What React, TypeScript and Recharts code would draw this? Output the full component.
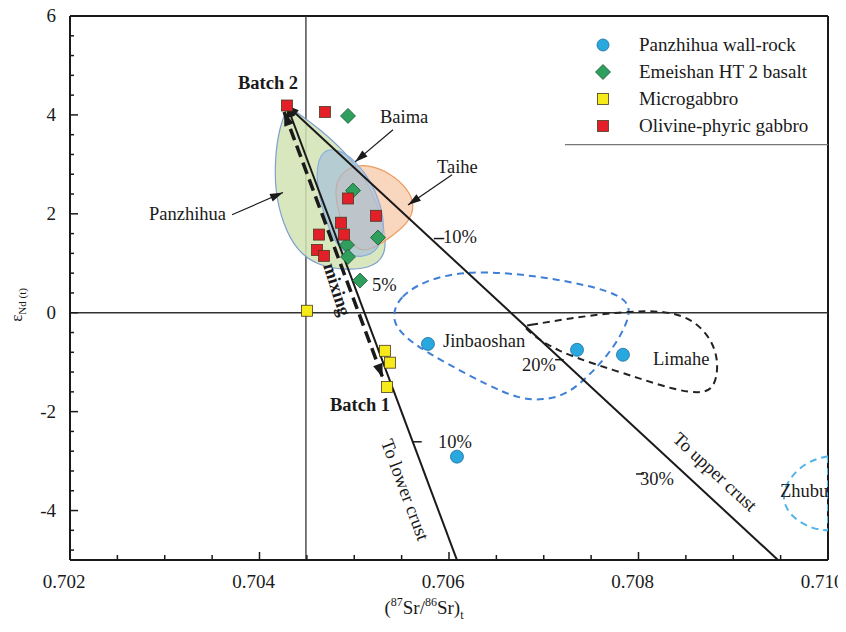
import { ScatterChart, Scatter, XAxis, YAxis, ReferenceLine, Legend, Curve } from "recharts";

const FONT = '"Liberation Serif", "Times New Roman", serif';
const INK = "#1a1a1a";

// axis ticks
const xTicks = [0.702, 0.7025, 0.703, 0.7035, 0.704, 0.7045, 0.705, 0.7055, 0.706, 0.7065, 0.707, 0.7075, 0.708, 0.7085, 0.709, 0.7095, 0.71];
const xLabels = [0.702, 0.704, 0.706, 0.708, 0.71];
const yTicks = [6, 5.6, 5.2, 4.8, 4.4, 4, 3.6, 3.2, 2.8, 2.4, 2, 1.6, 1.2, 0.8, 0.4, 0, -0.4, -0.8, -1.2, -1.6, -2, -2.4, -2.8, -3.2, -3.6, -4, -4.4, -4.8];
const yLabels = [6, 4, 2, 0, -2, -4];

// samples
const wallRock = [
  { x: 0.705778, y: -0.63 },
  { x: 0.707351, y: -0.75 },
  { x: 0.707836, y: -0.85 },
  { x: 0.706084, y: -2.91 },
];
const ht2Basalt = [
  { x: 0.704934, y: 3.98 },
  { x: 0.704987, y: 2.47 },
  { x: 0.70525, y: 1.52 },
  { x: 0.704923, y: 1.37 },
  { x: 0.704934, y: 1.13 },
  { x: 0.705061, y: 0.65 },
];
const microgabbro = [
  { x: 0.704501, y: 0.04 },
  { x: 0.705325, y: -0.77 },
  { x: 0.705377, y: -1.01 },
  { x: 0.705346, y: -1.5 },
];
const olivineGabbro = [
  { x: 0.70429, y: 4.19 },
  { x: 0.704691, y: 4.06 },
  { x: 0.704934, y: 2.31 },
  { x: 0.70523, y: 1.96 },
  { x: 0.70486, y: 1.82 },
  { x: 0.704628, y: 1.58 },
  { x: 0.704892, y: 1.58 },
  { x: 0.704607, y: 1.27 },
  { x: 0.704681, y: 1.15 },
];

// fields
const panzhihuaField = [
  { x: 0.7043, y: 4.19 }, { x: 0.7043, y: 4.19 }, { x: 0.7043, y: 4.19 },
  { x: 0.704427, y: 4.0 }, { x: 0.704617, y: 3.74 }, { x: 0.704902, y: 3.26 },
  { x: 0.705113, y: 2.73 }, { x: 0.705251, y: 2.18 }, { x: 0.705335, y: 1.58 },
  { x: 0.705324, y: 1.12 }, { x: 0.705166, y: 0.9 }, { x: 0.704902, y: 0.86 },
  { x: 0.704607, y: 0.96 }, { x: 0.704396, y: 1.25 }, { x: 0.704249, y: 1.78 },
  { x: 0.704164, y: 2.45 }, { x: 0.704164, y: 3.13 }, { x: 0.704206, y: 3.72 },
];
const baimaField = [
  { x: 0.70466, y: 3.33 }, { x: 0.70485, y: 3.29 }, { x: 0.705008, y: 3.08 },
  { x: 0.705176, y: 2.67 }, { x: 0.705282, y: 2.18 }, { x: 0.705324, y: 1.7 },
  { x: 0.705261, y: 1.27 }, { x: 0.705082, y: 1.1 }, { x: 0.704892, y: 1.19 },
  { x: 0.704755, y: 1.56 }, { x: 0.70465, y: 2.18 }, { x: 0.704586, y: 2.81 },
];
const taiheField = [
  { x: 0.704818, y: 2.71 }, { x: 0.704955, y: 2.96 }, { x: 0.705145, y: 3.0 },
  { x: 0.705387, y: 2.82 }, { x: 0.705567, y: 2.5 }, { x: 0.705641, y: 2.18 },
  { x: 0.705577, y: 1.82 }, { x: 0.705398, y: 1.55 }, { x: 0.705208, y: 1.3 },
  { x: 0.705051, y: 1.23 }, { x: 0.704924, y: 1.5 }, { x: 0.70484, y: 1.98 },
  { x: 0.704797, y: 2.4 },
];
const jinbaoshanField = [
  { x: 0.705409, y: 0.0 }, { x: 0.705483, y: 0.32 }, { x: 0.705726, y: 0.64 },
  { x: 0.706148, y: 0.84 }, { x: 0.706675, y: 0.8 }, { x: 0.707203, y: 0.66 },
  { x: 0.707709, y: 0.44 }, { x: 0.707909, y: 0.2 }, { x: 0.707899, y: -0.14 },
  { x: 0.707741, y: -0.71 }, { x: 0.707498, y: -1.24 }, { x: 0.707245, y: -1.66 },
  { x: 0.706992, y: -1.77 }, { x: 0.706739, y: -1.74 }, { x: 0.706423, y: -1.48 },
  { x: 0.705969, y: -1.02 }, { x: 0.70561, y: -0.62 }, { x: 0.705431, y: -0.28 },
];
const limaheField = [
  { x: 0.706792, y: -0.27 }, { x: 0.706792, y: -0.27 },
  { x: 0.707245, y: -0.12 }, { x: 0.707805, y: 0.02 }, { x: 0.708301, y: 0.05 },
  { x: 0.708595, y: -0.16 }, { x: 0.708775, y: -0.55 }, { x: 0.708848, y: -1.01 },
  { x: 0.708806, y: -1.53 }, { x: 0.708649, y: -1.64 }, { x: 0.708364, y: -1.55 },
  { x: 0.708016, y: -1.33 }, { x: 0.70752, y: -1.03 }, { x: 0.70714, y: -0.77 },
  { x: 0.706887, y: -0.46 },
];
const zhubuField = [
  { x: 0.71, y: -2.9 }, { x: 0.71, y: -2.9 }, { x: 0.71, y: -2.9 },
  { x: 0.709778, y: -3.0 }, { x: 0.709579, y: -3.36 }, { x: 0.709505, y: -3.78 },
  { x: 0.709621, y: -4.15 }, { x: 0.709842, y: -4.38 },
  { x: 0.71, y: -4.4 }, { x: 0.71, y: -4.4 }, { x: 0.71, y: -4.4 },
];

// mixing trends
const upperCrust = [{ x: 0.70429, y: 4.19 }, { x: 0.709472, y: -5 }];
const lowerCrust = [{ x: 0.70429, y: 4.19 }, { x: 0.706084, y: -5 }];
const mixingTrend = [{ x: 0.70426, y: 4.06 }, { x: 0.7053, y: -1.31 }];
const pctMarks = [
  [{ x: 0.70584, y: 1.5 }, { x: 0.70595, y: 1.5 }],
  [{ x: 0.70712, y: -0.95 }, { x: 0.70721, y: -0.95 }],
  [{ x: 0.707974, y: -3.26 }, { x: 0.708058, y: -3.26 }],
  [{ x: 0.705617, y: -2.61 }, { x: 0.705712, y: -2.61 }],
];
const pointers = [
  [{ x: 0.70371, y: 1.98 }, { x: 0.704248, y: 2.43 }],
  [{ x: 0.705409, y: 3.7 }, { x: 0.705008, y: 3.05 }],
  [{ x: 0.706032, y: 2.79 }, { x: 0.705567, y: 2.18 }],
];
const legendLine = [{ x: 0.707224, y: 3.4 }, { x: 0.71, y: 3.4 }];

// annotations
const notes = [
  { x: 0.703773, y: 4.53, text: "Batch 2" },
  { x: 0.705272, y: 3.84, text: "Baima" },
  { x: 0.705873, y: 2.83, text: "Taihe" },
  { x: 0.702834, y: 1.88, text: "Panzhihua" },
  { x: 0.705937, y: 1.42, text: "10%" },
  { x: 0.705187, y: 0.44, text: "5%" },
  { x: 0.705937, y: -0.69, text: "Jinbaoshan" },
  { x: 0.70677, y: -1.17, text: "20%" },
  { x: 0.708153, y: -1.05, text: "Limahe" },
  { x: 0.704744, y: -1.98, text: "Batch 1" },
  { x: 0.705884, y: -2.73, text: "10%" },
  { x: 0.708016, y: -3.48, text: "30%" },
  { x: 0.709493, y: -3.72, text: "Zhubu" },
  { x: 0.704818, y: 0.47, text: "mixing" },
  { x: 0.705536, y: -3.58, text: "To lower crust" },
  { x: 0.708807, y: -3.22, text: "To upper crust" },
];
const noteStyle: Record<string, { bold?: boolean; angle?: number }> = {
  "Batch 2": { bold: true },
  "Batch 1": { bold: true },
  mixing: { bold: true, angle: 72 },
  "To lower crust": { angle: 69.5 },
  "To upper crust": { angle: 42.8 },
};

const legendItems = [
  { name: "Panzhihua wall-rock", kind: "circle", color: "#29a8e0" },
  { name: "Emeishan HT 2 basalt", kind: "diamond", color: "#2e9f5c" },
  { name: "Microgabbro", kind: "square", color: "#f6ea1a" },
  { name: "Olivine-phyric gabbro", kind: "square", color: "#e3202a" },
];

const near = (list: number[], v: number) => list.some((m) => Math.abs(m - v) < 1e-7);

const XTick = (props: any) => {
  const { x, y, payload } = props;
  const major = near(xLabels, payload.value);
  return (
    <g>
      <line x1={x} x2={x} y1={y} y2={y - (major ? 8 : 5)} stroke={INK} strokeWidth={1.5} />
      {major && (
        <text x={x - 6} y={y + 28} textAnchor="middle" fontFamily={FONT} fontSize={19} fill={INK}>
          {payload.value.toFixed(3)}
        </text>
      )}
    </g>
  );
};

const YTick = (props: any) => {
  const { x, y, payload } = props;
  const major = near(yLabels, payload.value);
  return (
    <g>
      <line x1={x} x2={x + (major ? 8 : 4)} y1={y} y2={y} stroke={INK} strokeWidth={1.5} />
      {major && (
        <text x={x - 14} y={y + 6} textAnchor="end" fontFamily={FONT} fontSize={19} fill={INK}>
          {String(payload.value)}
        </text>
      )}
    </g>
  );
};

const head = (tip: any, from: any, len = 12, half = 4.5) => {
  const dx = tip.x - from.x;
  const dy = tip.y - from.y;
  const d = Math.hypot(dx, dy) || 1;
  const ux = dx / d;
  const uy = dy / d;
  const bx = tip.x - ux * len;
  const by = tip.y - uy * len;
  return `${tip.x},${tip.y} ${bx - uy * half},${by + ux * half} ${bx + uy * half},${by - ux * half}`;
};

const segment =
  (width: number, opts: { dash?: string; start?: boolean; end?: boolean; len?: number; half?: number } = {}) =>
  (props: any) => {
    const [a, b] = props.points;
    return (
      <g>
        <line x1={a.x} y1={a.y} x2={b.x} y2={b.y} stroke={INK} strokeWidth={width} strokeDasharray={opts.dash} />
        {opts.start && <polygon points={head(a, b, opts.len, opts.half)} fill={INK} />}
        {opts.end && <polygon points={head(b, a, opts.len, opts.half)} fill={INK} />}
      </g>
    );
  };

const field =
  (fill: string, stroke: string, opacity: number, dash?: string, width = 1.2) =>
  (props: any) =>
    (
      <Curve
        type="basisClosed"
        points={props.points}
        fill={fill}
        fillOpacity={opacity}
        stroke={stroke}
        strokeWidth={width}
        strokeDasharray={dash}
      />
    );

const none = () => <g />;

const mark = (kind: string, color: string, size = 11) => (props: any) => {
  const { cx, cy } = props;
  if (kind === "circle") return <circle cx={cx} cy={cy} r={size / 2 + 0.5} fill={color} stroke="#1c6d9c" strokeWidth={0.8} />;
  if (kind === "diamond") {
    const h = size / 2 + 2;
    return (
      <polygon
        points={`${cx},${cy - h} ${cx + h},${cy} ${cx},${cy + h} ${cx - h},${cy}`}
        fill={color}
        stroke="#1d5535"
        strokeWidth={0.8}
      />
    );
  }
  return <rect x={cx - size / 2} y={cy - size / 2} width={size} height={size} fill={color} stroke="#4a3a20" strokeWidth={0.8} />;
};

const NoteMark = (props: any) => {
  const { cx, cy, payload } = props;
  const s = noteStyle[payload.text] || {};
  const rotated = s.angle !== undefined;
  return (
    <text
      x={cx}
      y={cy}
      fontFamily={FONT}
      fontSize={18.5}
      fontWeight={s.bold ? 700 : 400}
      fill={INK}
      textAnchor={rotated ? "middle" : "start"}
      dominantBaseline={rotated ? "central" : "auto"}
      transform={rotated ? `rotate(${s.angle} ${cx} ${cy})` : undefined}
    >
      {payload.text}
    </text>
  );
};

const LegendIcon = ({ kind, color }: { kind: string; color: string }) => (
  <svg width={20} height={20}>{mark(kind, color, 11)({ cx: 10, cy: 10 })}</svg>
);

const LegendBox = () => (
  <div style={{ fontFamily: FONT, fontSize: 19, color: INK }}>
    {legendItems.map((it) => (
      <div key={it.name} style={{ display: "flex", alignItems: "center", height: 27, whiteSpace: "nowrap" }}>
        <LegendIcon kind={it.kind} color={it.color} />
        <span style={{ marginLeft: 26 }}>{it.name}</span>
      </div>
    ))}
  </div>
);

const XLabel = (props: any) => {
  const vb = props.viewBox;
  return (
    <text x={vb.x + vb.width / 2 - 25} y={vb.y + 54} textAnchor="middle" fontFamily={FONT} fontSize={19} fill={INK}>
      (<tspan fontSize={12} dy={-8}>87</tspan>
      <tspan dy={8}>Sr/</tspan>
      <tspan fontSize={12} dy={-8}>86</tspan>
      <tspan dy={8}>Sr)</tspan>
      <tspan fontSize={12} dy={5}>t</tspan>
    </text>
  );
};

const YLabel = (props: any) => {
  const vb = props.viewBox;
  const cx = vb.x + 14;
  const cy = vb.y + 289;
  return (
    <text x={cx} y={cy} textAnchor="middle" fontFamily={FONT} fontSize={17} fill={INK} transform={`rotate(-90 ${cx} ${cy})`}>
      ε<tspan fontSize={11} dy={4}>Nd (t)</tspan>
    </text>
  );
};

export default function App() {
  return (
    <div style={{ marginTop: -8 }}>
      <ScatterChart width={838} height={632} margin={{ top: 16, right: 18, bottom: 0, left: 0 }}>
        <XAxis
          type="number"
          dataKey="x"
          domain={[0.702, 0.71]}
          ticks={xTicks}
          interval={0}
          allowDataOverflow
          height={72}
          tickSize={0}
          tickMargin={0}
          tickLine={false}
          tick={XTick}
          axisLine={{ stroke: INK, strokeWidth: 2 }}
          label={{ content: XLabel }}
        />
        <YAxis
          type="number"
          dataKey="y"
          domain={[-5, 6]}
          ticks={yTicks}
          interval={0}
          allowDataOverflow
          width={62}
          tickSize={0}
          tickMargin={0}
          tickLine={false}
          tick={YTick}
          axisLine={{ stroke: INK, strokeWidth: 2 }}
          label={{ content: YLabel }}
        />
        <ReferenceLine y={6} stroke={INK} strokeWidth={2} />
        <ReferenceLine x={0.71} stroke={INK} strokeWidth={2} />
        <ReferenceLine y={0} stroke="#333" strokeWidth={1.3} />
        <ReferenceLine x={0.70449} stroke="#333" strokeWidth={1.3} />
        <ReferenceLine segment={legendLine} stroke="#777" strokeWidth={1.2} />

        <Scatter data={panzhihuaField} shape={none} line={field("#d2e3b4", "#7f9fcf", 0.85)} isAnimationActive={false} />
        <Scatter data={taiheField} shape={none} line={field("#f7c6a2", "#f09a5c", 0.7)} isAnimationActive={false} />
        <Scatter data={baimaField} shape={none} line={field("#9dbde0", "#8aaedc", 0.6)} isAnimationActive={false} />
        <Scatter data={jinbaoshanField} shape={none} line={field("none", "#3f7fd6", 1, "7 5", 2)} isAnimationActive={false} />
        <Scatter data={limaheField} shape={none} line={field("none", "#222", 1, "7 5", 2)} isAnimationActive={false} />
        <Scatter data={zhubuField} shape={none} line={field("none", "#4fb3ea", 1, "7 5", 2)} isAnimationActive={false} />

        <Scatter data={upperCrust} shape={none} line={segment(2, { start: true })} isAnimationActive={false} />
        <Scatter data={lowerCrust} shape={none} line={segment(2, { start: true })} isAnimationActive={false} />
        <Scatter
          data={mixingTrend}
          shape={none}
          line={segment(3.5, { dash: "12 6", start: true, end: true, len: 14, half: 5 })}
          isAnimationActive={false}
        />
        {pctMarks.map((m, i) => (
          <ReferenceLine key={`p${i}`} segment={m} stroke={INK} strokeWidth={1.5} />
        ))}
        {pointers.map((p, i) => (
          <Scatter key={`a${i}`} data={p} shape={none} line={segment(1.2, { end: true, len: 13, half: 4 })} isAnimationActive={false} />
        ))}

        <Scatter data={wallRock} shape={mark("circle", "#29a8e0", 12)} isAnimationActive={false} />
        <Scatter data={ht2Basalt} shape={mark("diamond", "#2e9f5c", 11)} isAnimationActive={false} />
        <Scatter data={microgabbro} shape={mark("square", "#f6ea1a", 11)} isAnimationActive={false} />
        <Scatter data={olivineGabbro} shape={mark("square", "#e3202a", 11)} isAnimationActive={false} />

        <Scatter data={notes} shape={NoteMark} isAnimationActive={false} />

        <Legend
          verticalAlign="top"
          align="left"
          wrapperStyle={{ top: 31, left: 585, width: 250, height: 0 }}
          content={LegendBox}
        />
      </ScatterChart>
    </div>
  );
}
